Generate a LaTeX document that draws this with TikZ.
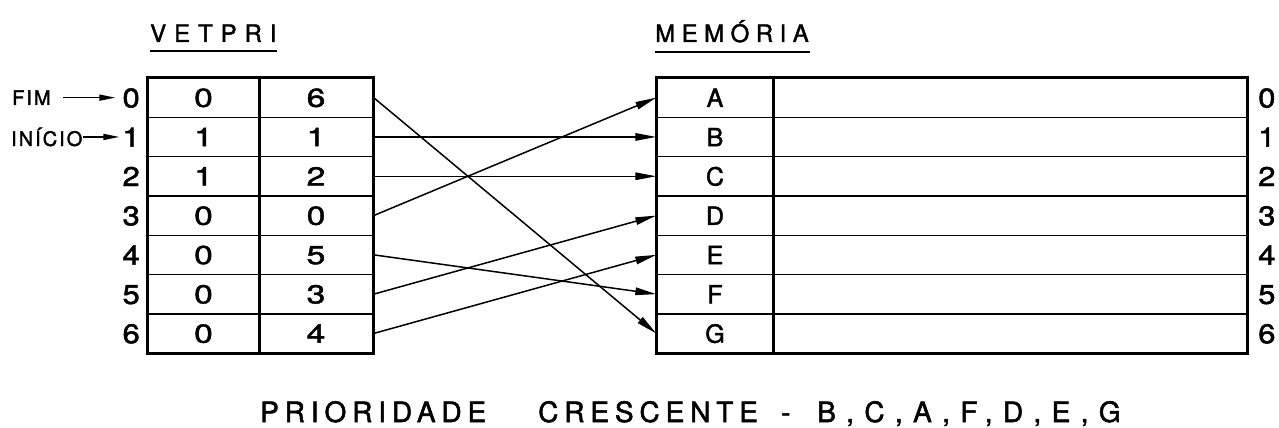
\documentclass[tikz,border=0pt]{standalone}
\usepackage{fontspec}
\setmainfont[FakeBold=1.8]{TeX Gyre Heros}
\newfontfamily\widedigits[FakeStretch=1.3,FakeBold=1.8]{TeX Gyre Heros}
\newfontfamily\sidedigits[FakeStretch=1.15,FakeBold=1.8]{TeX Gyre Heros}
\newfontfamily\spacedA[LetterSpace=33,FakeBold=1.8]{TeX Gyre Heros}
\newfontfamily\spacedB[LetterSpace=27,FakeBold=1.8]{TeX Gyre Heros}
\newfontfamily\spacedC[LetterSpace=21,FakeBold=1.8]{TeX Gyre Heros}
\newfontfamily\spacedD[LetterSpace=37,FakeBold=1.8]{TeX Gyre Heros}
\newfontfamily\spacedE[LetterSpace=10,FakeBold=1.8]{TeX Gyre Heros}
\usetikzlibrary{arrows.meta}

\begin{document}
\begin{tikzpicture}[x=1pt,y=-1pt,
  cellbox/.style={draw, line width=1.4pt, minimum height=39.3pt, inner sep=0pt,
    text height=18.5pt, text depth=0pt},
  numcell/.style={cellbox, font=\fontsize{26}{26}\widedigits},
  memcell/.style={cellbox, font=\fontsize{25}{25}\selectfont},
  idx/.style={inner sep=0pt, font=\fontsize{27}{27}\sidedigits, text height=19.5pt, text depth=0pt},
  frame/.style={line width=3pt},
  divider/.style={line width=2.4pt},
  link/.style={line width=1.5pt, -{Triangle[length=21pt,width=7.5pt]}},
  marker/.style={line width=1.5pt, -{Triangle[length=16pt,width=6pt]}},
  title/.style={inner sep=0pt, anchor=base west},
  uline/.style={line width=2pt},
  sidenote/.style={inner sep=0pt, anchor=west, font=\fontsize{20}{20}\spacedE},
]
\useasboundingbox (0,0) rectangle (1279,428);

% table rows: left vector (flag, pointer), memory (key, data), indices
\foreach \i/\a/\b/\m in {0/0/6/A,1/1/1/B,2/1/2/C,3/0/0/D,4/0/5/E,5/0/3/F,6/0/4/G}{
  \pgfmathsetmacro{\yc}{97.65+39.3*\i}
  \node[numcell, minimum width=111pt] (a\i) at (203.5,\yc) {\a};
  \node[numcell, minimum width=114pt] (p\i) at (316,\yc) {\b};
  \node[memcell, minimum width=116pt] (m\i) at (715,\yc) {\m};
  \node[memcell, minimum width=474pt] (d\i) at (1010,\yc) {};
  \node[idx, anchor=east] (li\i) at (140,\yc) {\i};
  \node[idx, anchor=west] (ri\i) at (1258,\yc) {\i};
}

% outer frames and column dividers
\draw[frame] (a0.north west) rectangle (p6.south east);
\draw[divider] (a0.north east) -- (a6.south east);
\draw[frame] (m0.north west) rectangle (d6.south east);
\draw[divider] (m0.north east) -- (m6.south east);

% titles
\node[title, font=\fontsize{24}{24}\spacedA] (vet) at (150,42) {VETPRI};
\draw[uline] ([yshift=-9pt]vet.base west) -- ++(127,0);
\node[title, font=\fontsize{24}{24}\spacedB] (mem) at (655,42) {MEMÓRIA};
\draw[uline] ([yshift=-10pt]mem.base west) -- ++(155,0);

% head / tail markers
\node[sidenote] (fim) at (12,97.65) {FIM};
\node[sidenote] (ini) at (11,136.95) {INÍCIO};
\draw[marker, shorten <=12pt, shorten >=7pt] (fim.east) -- (li0.west);
\draw[marker, shorten >=3pt] (ini.east) -- (li1.west);

% pointer links
\foreach \i/\j in {0/6,1/1,2/2,3/0,4/5,5/3,6/4}{
  \draw[link] (p\i.east) -- (m\j.west);
}

% caption
\node[title, font=\fontsize{28}{28}\spacedC] (c1) at (260,422) {PRIORIDADE};
\node[title, font=\fontsize{28}{28}\spacedC] (c2) at (538,422) {CRESCENTE};
\node[title, font=\fontsize{28}{28}\selectfont] (c3) at (781,422) {-};
\node[title, font=\fontsize{28}{28}\spacedD] (c4) at (817,422) {B,C,A,F,D,E,G};
\end{tikzpicture}
\end{document}
